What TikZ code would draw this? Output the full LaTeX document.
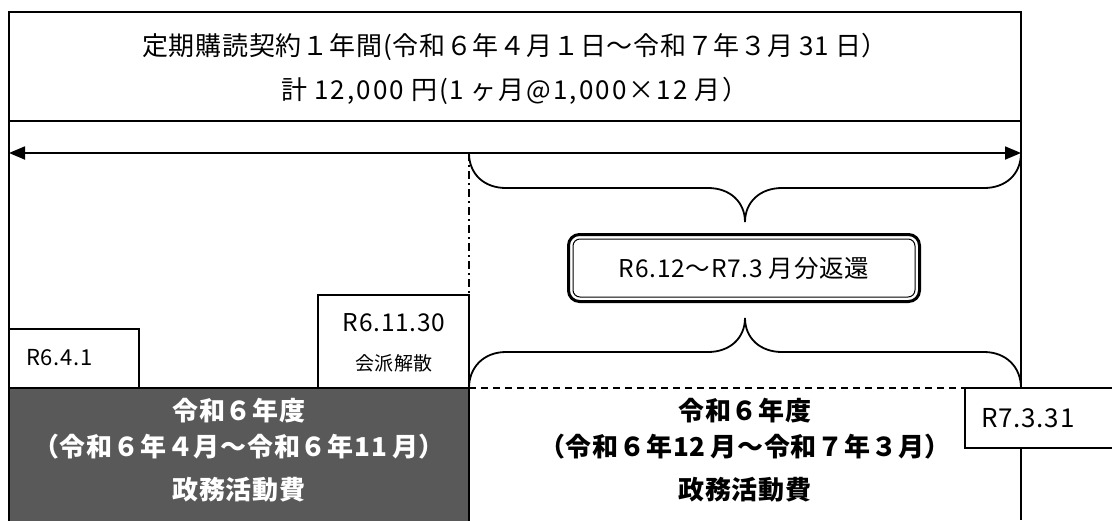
\documentclass[tikz,border=0pt]{standalone}
\usepackage{fontspec}
\newfontfamily\jp[LetterSpace=3]{Noto Sans CJK JP}
\usetikzlibrary{arrows.meta}
\definecolor{darkfill}{RGB}{89,89,89}
\begin{document}
\begin{tikzpicture}[x=1pt,y=-1pt]
\tikzset{
  box/.style={draw, line width=1.3pt, inner sep=0pt, outer sep=0pt, anchor=north west},
  txt/.style={inner sep=0pt, font=\jp\fontsize{26}{30}\selectfont},
  midtxt/.style={inner sep=0pt, font=\jp\fontsize{24.5}{28}\selectfont},
  smalltxt/.style={inner sep=0pt, font=\jp\fontsize{22}{26}\selectfont},
  boldtxt/.style={inner sep=0pt, font=\jp\bfseries\fontsize{26}{30}\selectfont},
  lineseg/.style={line width=1.3pt},
  brace/.style={line width=1.8pt},
  dashdot/.style={line width=1.5pt, dash pattern=on 8pt off 4pt on 2pt off 4pt},
  dashline/.style={line width=1.5pt, dash pattern=on 7pt off 5pt}
}
\useasboundingbox (0,0) rectangle (1112,520);
\fill[white] (0,0) rectangle (1112,520);

% coordinates
\coordinate (lb) at (9,520);
\coordinate (rb) at (1021,520);
\coordinate (al) at (9,153);
\coordinate (ar) at (1021,153);
\coordinate (tip1) at (745,222);
\coordinate (tip2) at (745,318);

% top box
\node[box, minimum width=1012pt, minimum height=109pt] (top) at (9,12) {};
\draw[lineseg] (top.south west) -- (lb);
\draw[lineseg] (top.south east) -- (rb);

% dark box
\node[box, fill=darkfill, minimum width=460pt, minimum height=140pt] (dark) at (9,388) {};

% small boxes
\node[box, fill=white, minimum width=130pt, minimum height=59pt] (r641) at (9,329) {};
\node[box, fill=white, minimum width=151pt, minimum height=93pt] (r611) at (318,295) {};
\node[box, fill=white, minimum width=150pt, minimum height=60pt] (r7331) at (965,388) {};

% arrow
\draw[line width=1.8pt, {Triangle[length=16pt,width=13pt]}-{Triangle[length=16pt,width=13pt]}] (al) -- (ar);

% dash-dot vertical
\coordinate (d1) at (469,153);
\draw[dashdot] (d1) -- (r611.north east);

% dashed horizontal
\draw[dashline] (dark.north east) -- (r7331.north west);

% top brace
\draw[brace] (d1) .. controls (469,174) and (484,188) .. (506,188) -- (708,188)
  .. controls (730,188) and (745,202) .. (tip1)
  .. controls (745,202) and (760,188) .. (782,188) -- (984,188)
  .. controls (1006,188) and (1021,174) .. (ar);

% bottom brace
\draw[brace] (dark.north east) .. controls (469,367) and (484,352) .. (506,352) -- (708,352)
  .. controls (730,352) and (745,338) .. (tip2)
  .. controls (745,338) and (760,352) .. (782,352) -- (984,352)
  .. controls (1006,352) and (1021,367) .. (1021,388);

% center double box
\node[draw, line width=3pt, rounded corners=11pt, minimum width=351pt, minimum height=67pt, inner sep=0pt] (ret) at (744,268) {};
\node[draw, line width=1pt, rounded corners=7pt, minimum width=342pt, minimum height=58pt, inner sep=0pt] (retin) at (744,268) {};
\node[midtxt] (rettxt) at (ret.center) {R6.12～R7.3\hspace{6pt}月分返還};

% texts
\node[txt] (t1) at (515,47) {定期購読契約１年間(令和６年４月１日～令和７年３月\hspace{6pt}31\hspace{6pt}日）};
\node[txt] (t2) at (515,91) {\addfontfeature{LetterSpace=8}計\hspace{7pt}12,000\hspace{7pt}円(1\hspace{6pt}ヶ月@1,000×12\hspace{7pt}月）};

\node[smalltxt, anchor=west] (l641) at (26,358) {R6.4.1};
\node[midtxt] (l611) at (394,323) {R6.11.30};
\node[inner sep=0pt, font=\jp\fontsize{19}{22}\selectfont] (lkai) at (394,363) {会派解散};
\node[txt, anchor=west] (l7331) at (981,418) {R7.3.31};

\node[boldtxt, text=white] (a1) at (239,411) {令和６年度};
\node[boldtxt, text=white] (a2) at (239,447) {（令和６年４月～令和６年11\hspace{5pt}月）};
\node[boldtxt, text=white] (a3) at (239,490) {政務活動費};

\node[boldtxt] (b1) at (745,411) {令和６年度};
\node[boldtxt] (b2) at (745,447) {（令和６年12\hspace{5pt}月～令和７年３月）};
\node[boldtxt] (b3) at (745,490) {政務活動費};
\end{tikzpicture}
\end{document}
